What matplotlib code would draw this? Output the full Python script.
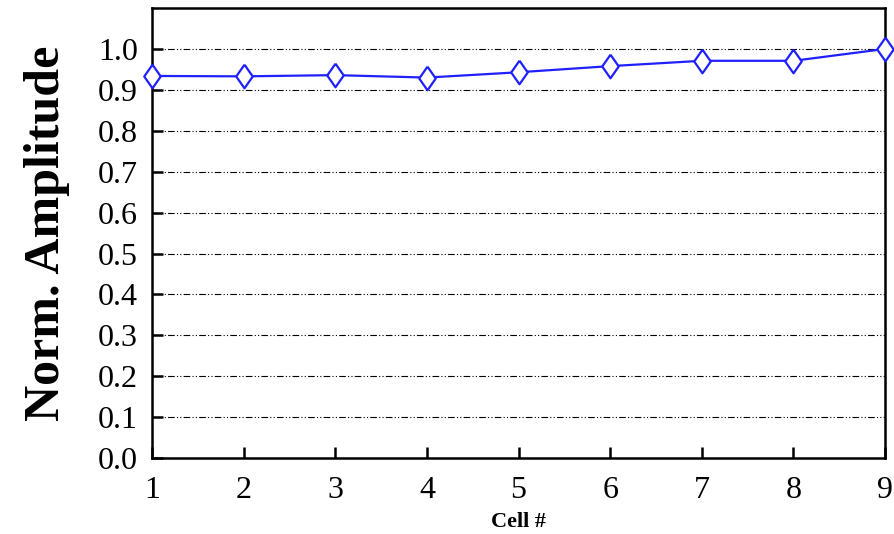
import matplotlib.pyplot as plt
import numpy as np

# cell number and normalised amplitude
cells = [1, 2, 3, 4, 5, 6, 7, 8, 9]
amplitude = [0.934, 0.933, 0.936, 0.930, 0.943, 0.958, 0.971, 0.971, 1.0]
yticks = np.round(np.arange(0, 1.01, 0.1), 1)

plt.rcParams['font.family'] = ['Liberation Serif', 'DejaVu Serif']

fig = plt.figure(figsize=(8.94, 5.34), dpi=100)
ax = fig.add_axes([0.170, 0.142, 0.820, 0.843])

for y in yticks[1:]:
    ax.axhline(y, color='black', lw=0.8, dashes=(6, 2, 1, 2, 1, 2), zorder=1)

# open diamond, a bit wider than the built-in thin one
diamond = [(0, 1), (0.7, 0), (0, -1), (-0.7, 0), (0, 1)]
ax.plot(cells, amplitude, color='#2020ff', lw=1.6, marker=diamond, ms=17,
        mfc='white', mec='#2020ff', mew=1.6, clip_on=False, zorder=3)

ax.set_xlim(1, 9)
ax.set_ylim(0, 1.1)
ax.set_xticks(cells)
ax.set_yticks(yticks)
ax.set_yticklabels(['%.1f' % v for v in yticks])
ax.tick_params(direction='in', length=8, width=1.8, labelsize=23,
               top=False, right=False)
ax.tick_params(axis='x', pad=13)
ax.tick_params(axis='y', pad=10)
for s in ax.spines.values():
    s.set_linewidth(1.8)

ax.set_ylabel('Norm. Amplitude', fontsize=36, fontweight='bold', labelpad=20)
ax.set_xlabel('Cell #', fontsize=16, fontweight='bold', labelpad=5)

fig.savefig('out.png', dpi=100)
